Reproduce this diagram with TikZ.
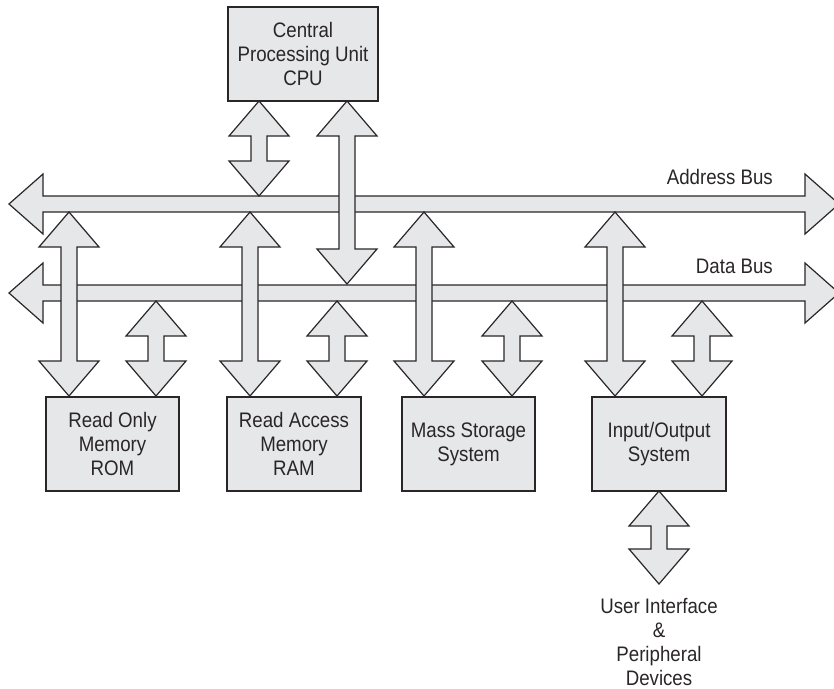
\documentclass[tikz,border=0pt]{standalone}
\usepackage{fontspec}
\setmainfont{Liberation Sans}[FakeStretch=0.89]
\definecolor{boxfill}{HTML}{E6E7E8}
\definecolor{edge}{HTML}{2A2627}
% vertical double block arrow: centre x, top tip y, bottom tip y
\newcommand\dblarr[3]{%
  \filldraw[arr] ({#1-8},{#2+35}) -- ({#1-30},{#2+35}) -- (#1,#2) -- ({#1+30},{#2+35}) -- ({#1+8},{#2+35})
   -- ({#1+8},{#3-35}) -- ({#1+30},{#3-35}) -- (#1,#3) -- ({#1-30},{#3-35}) -- ({#1-8},{#3-35}) -- cycle;}
% horizontal double block arrow: centre y, left tip x, right tip x
\newcommand\busarr[3]{%
  \filldraw[arr] ({#2+34},{#1-8}) -- ({#2+34},{#1-30}) -- (#2,#1) -- ({#2+34},{#1+30}) -- ({#2+34},{#1+8})
   -- ({#3-34},{#1+8}) -- ({#3-34},{#1+30}) -- (#3,#1) -- ({#3-34},{#1-30}) -- ({#3-34},{#1-8}) -- cycle;}
\begin{document}
\begin{tikzpicture}[x=1pt,y=-1pt,
  arr/.style={fill=boxfill,draw=edge,line width=1.2pt,line join=miter},
  box/.style={draw=edge,fill=boxfill,line width=1.2pt,align=center,inner sep=0pt,
    font=\fontsize{21}{24}\selectfont,text=edge},
  lbl/.style={inner sep=0pt,font=\fontsize{21}{24}\selectfont,text=edge,align=center}]
\useasboundingbox (0,0) rectangle (834,688);
% buses
\busarr{204}{9}{839}
\busarr{293}{9}{839}
\node[lbl,anchor=base east] (abus) at (773,184) {Address Bus};
\node[lbl,anchor=base east] (dbus) at (773,273) {Data Bus};
% boxes
\node[box,minimum width=150pt,minimum height=94pt] (cpu) at (303,54) {Central\\Processing Unit\\CPU};
\node[box,minimum width=133pt,minimum height=94pt] (rom) at (112.5,444) {Read Only\\Memory\\ROM};
\node[box,minimum width=134pt,minimum height=94pt] (ram) at (294,444) {Read Access\\Memory\\RAM};
\node[box,minimum width=133pt,minimum height=94pt] (mss) at (468.5,444) {Mass Storage\\System};
\node[box,minimum width=134pt,minimum height=94pt] (io) at (659,444) {Input/Output\\System};
\node[lbl,anchor=north] (user) at (659,598) {User Interface\\\&\\Peripheral\\Devices};
% CPU arrows
\dblarr{259}{101}{196}
\dblarr{347}{101}{284}
% address arrows
\dblarr{69}{212}{396}
\dblarr{250}{212}{396}
\dblarr{424}{212}{396}
\dblarr{615}{212}{396}
% data arrows
\dblarr{156}{301}{396}
\dblarr{337}{301}{396}
\dblarr{512}{301}{396}
\dblarr{702}{301}{396}
% io to user
\dblarr{659}{491}{584}
\end{tikzpicture}
\end{document}
